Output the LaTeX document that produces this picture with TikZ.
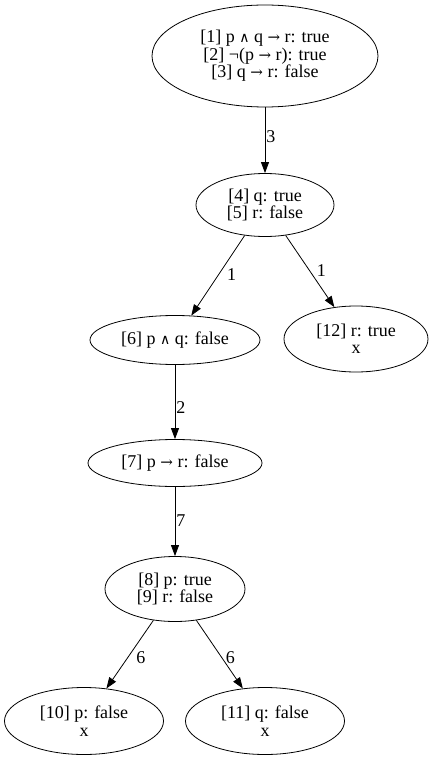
\documentclass[tikz,border=0pt]{standalone}
\usepackage{fontspec}
\setmainfont{Liberation Serif}
\newfontfamily\symf{DejaVu Serif}
\usetikzlibrary{shapes.geometric,arrows.meta}
\newcommand{\myand}{{\symf\fontsize{14}{14}\selectfont ∧}}
\newcommand{\myto}{{\symf\fontsize{15}{15}\selectfont →}}
\begin{document}
\begin{tikzpicture}[x=1pt,y=-1pt,
  st/.style={ellipse,draw,line width=0.8pt,inner sep=0pt,align=center,
    font=\fontsize{18}{17.5}\selectfont},
  conn/.style={draw,line width=0.8pt,-{Triangle[length=11pt,width=8pt]}},
  lab/.style={anchor=west,inner sep=1pt,font=\fontsize{18}{17.5}\selectfont}]
\useasboundingbox (0,0) rectangle (434,762);
\node[st,minimum width=226pt,minimum height=102pt] (n1) at (265,56)
  {[1] p \myand{} q \myto{} r: true\\\relax [2] ¬(p \myto{} r): true\\\relax [3] q \myto{} r: false};
\node[st,minimum width=138pt,minimum height=63pt] (n4) at (265,205)
  {[4] q: true\\\relax [5] r: false};
\node[st,minimum width=170pt,minimum height=49pt] (n6) at (175,340)
  {[6] p \myand{} q: false};
\node[st,minimum width=144pt,minimum height=66pt] (n12) at (356,339)
  {[12] r: true\\x};
\node[st,minimum width=174pt,minimum height=47pt] (n7) at (175,463)
  {[7] p \myto{} r: false};
\node[st,minimum width=140pt,minimum height=65pt] (n8) at (175,589)
  {[8] p: true\\\relax [9] r: false};
\node[st,minimum width=159pt,minimum height=67pt] (n10) at (84,721)
  {[10] p: false\\x};
\node[st,minimum width=159pt,minimum height=67pt] (n11) at (265,721)
  {[11] q: false\\x};
\draw[conn] (n1) -- node[lab,pos=0.45] {3} (n4);
\draw[conn] (n4) -- node[lab,pos=0.45,xshift=5pt,yshift=-3pt] {1} (n6);
\draw[conn] (n4) -- node[lab,pos=0.45,xshift=8pt,yshift=-3pt] {1} (n12);
\draw[conn] (n6) -- node[lab,pos=0.57] {2} (n7);
\draw[conn] (n7) -- node[lab,pos=0.48] {7} (n8);
\draw[conn] (n8) -- node[lab,pos=0.5,xshift=5pt,yshift=-3pt] {6} (n10);
\draw[conn] (n8) -- node[lab,pos=0.5,xshift=5pt,yshift=-3pt] {6} (n11);
\end{tikzpicture}
\end{document}
